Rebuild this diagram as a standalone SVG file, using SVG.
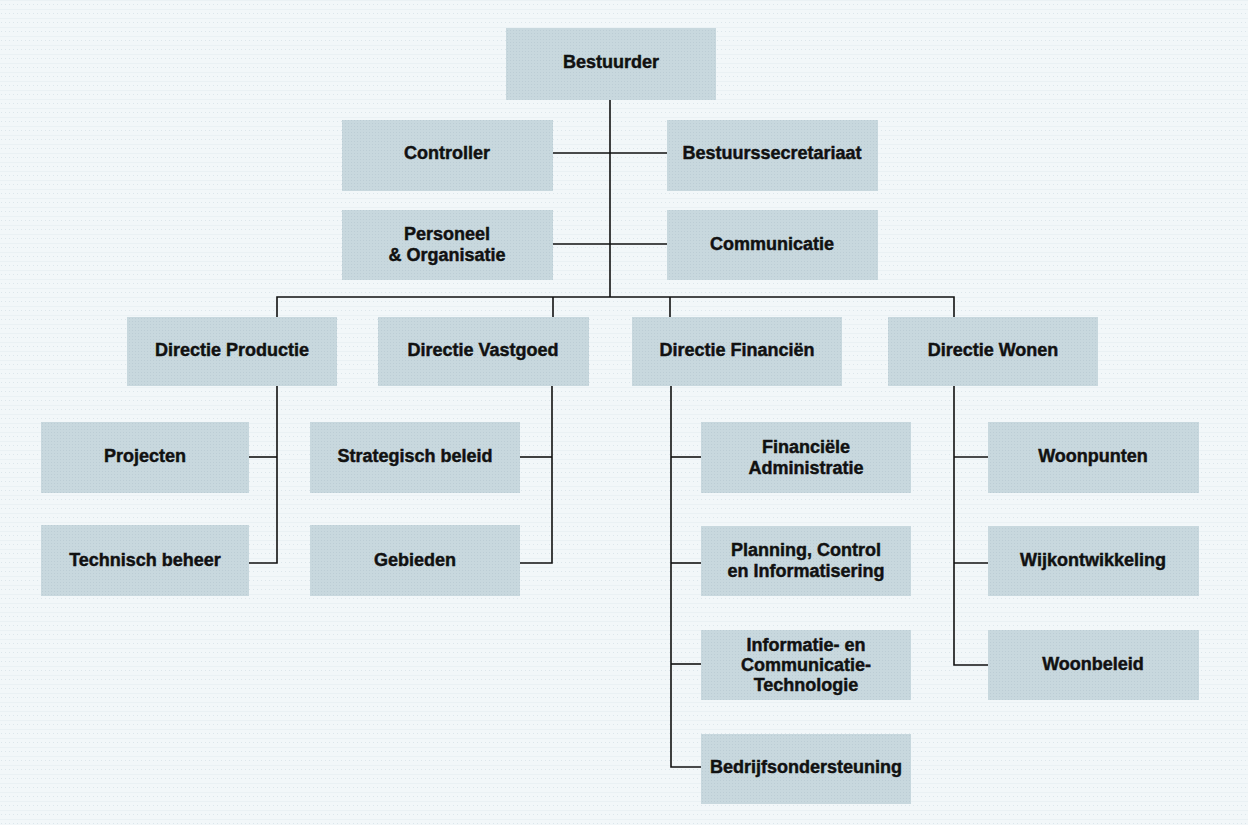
<svg xmlns="http://www.w3.org/2000/svg" width="1248" height="825" viewBox="0 0 1248 825">
  <defs>
    <!-- faint dotted paper texture -->
    <pattern id="paper" width="4" height="9" patternUnits="userSpaceOnUse">
      <rect width="4" height="9" fill="#f2f7f9"/>
      <rect x="0" y="0" width="4" height="1" fill="#eaf1f4"/>
      <rect x="1" y="4" width="1" height="1" fill="#dce6eb"/>
    </pattern>
    <pattern id="boxtex" width="3" height="3" patternUnits="userSpaceOnUse">
      <rect width="3" height="3" fill="#c8d8de"/>
      <rect x="0" y="0" width="1" height="1" fill="#bccdd5"/>
    </pattern>
  </defs>
  <style>
    .box { fill: url(#boxtex); }
    .lbl { font-family: "Liberation Sans", Arial, sans-serif; font-weight: bold; font-size: 18px; fill: #111; stroke: #111; stroke-width: 0.45; text-anchor: middle; dominant-baseline: central; }
    .wire { stroke: #111; stroke-width: 1.6; fill: none; }
  </style>

  <rect width="1248" height="825" fill="url(#paper)"/>

  <!-- connectors -->
  <g id="connectors" class="wire">
    <path d="M610 100 V297"/>
    <path d="M553 153 H667"/>
    <path d="M553 244 H667"/>
    <path d="M277 318 V297 H954 V318"/>
    <path d="M553 297 V318"/>
    <path d="M670 297 V318"/>
    <!-- Directie Productie branch -->
    <path d="M277 386 V563 H249"/>
    <path d="M249 457 H277"/>
    <!-- Directie Vastgoed branch -->
    <path d="M552 386 V563 H520"/>
    <path d="M520 457 H552"/>
    <!-- Directie Financiën branch -->
    <path d="M671 386 V767 H701"/>
    <path d="M671 457 H701"/>
    <path d="M671 563 H701"/>
    <path d="M671 664 H701"/>
    <!-- Directie Wonen branch -->
    <path d="M954 386 V665 H988"/>
    <path d="M954 457 H988"/>
    <path d="M954 563 H988"/>
  </g>

  <g id="bestuurder">
    <rect class="box" x="506" y="28" width="210" height="72"/>
    <text class="lbl" x="611" y="62">Bestuurder</text>
  </g>
  <g id="controller">
    <rect class="box" x="342" y="120" width="211" height="71"/>
    <text class="lbl" x="447" y="153">Controller</text>
  </g>
  <g id="bestuurssecretariaat">
    <rect class="box" x="667" y="120" width="211" height="71"/>
    <text class="lbl" x="772" y="153">Bestuurssecretariaat</text>
  </g>
  <g id="personeel-organisatie">
    <rect class="box" x="342" y="210" width="211" height="70"/>
    <text class="lbl" x="447" y="234">Personeel</text>
    <text class="lbl" x="447" y="255">&amp; Organisatie</text>
  </g>
  <g id="communicatie">
    <rect class="box" x="667" y="210" width="211" height="70"/>
    <text class="lbl" x="772" y="244">Communicatie</text>
  </g>

  <g id="directie-productie">
    <rect class="box" x="127" y="317" width="210" height="69"/>
    <text class="lbl" x="232" y="350">Directie Productie</text>
  </g>
  <g id="directie-vastgoed">
    <rect class="box" x="378" y="317" width="211" height="69"/>
    <text class="lbl" x="483" y="350">Directie Vastgoed</text>
  </g>
  <g id="directie-financien">
    <rect class="box" x="632" y="317" width="210" height="69"/>
    <text class="lbl" x="737" y="350">Directie Financiën</text>
  </g>
  <g id="directie-wonen">
    <rect class="box" x="888" y="317" width="210" height="69"/>
    <text class="lbl" x="993" y="350">Directie Wonen</text>
  </g>

  <g id="projecten">
    <rect class="box" x="41" y="422" width="208" height="71"/>
    <text class="lbl" x="145" y="456">Projecten</text>
  </g>
  <g id="technisch-beheer">
    <rect class="box" x="41" y="525" width="208" height="71"/>
    <text class="lbl" x="145" y="560">Technisch beheer</text>
  </g>
  <g id="strategisch-beleid">
    <rect class="box" x="310" y="422" width="210" height="71"/>
    <text class="lbl" x="415" y="456">Strategisch beleid</text>
  </g>
  <g id="gebieden">
    <rect class="box" x="310" y="525" width="210" height="71"/>
    <text class="lbl" x="415" y="560">Gebieden</text>
  </g>

  <g id="financiele-administratie">
    <rect class="box" x="701" y="422" width="210" height="71"/>
    <text class="lbl" x="806" y="447">Financiële</text>
    <text class="lbl" x="806" y="468">Administratie</text>
  </g>
  <g id="planning-control">
    <rect class="box" x="701" y="526" width="210" height="70"/>
    <text class="lbl" x="806" y="550">Planning, Control</text>
    <text class="lbl" x="806" y="571">en Informatisering</text>
  </g>
  <g id="ict">
    <rect class="box" x="701" y="630" width="210" height="70"/>
    <text class="lbl" x="806" y="645">Informatie- en</text>
    <text class="lbl" x="806" y="665">Communicatie-</text>
    <text class="lbl" x="806" y="685">Technologie</text>
  </g>
  <g id="bedrijfsondersteuning">
    <rect class="box" x="701" y="734" width="210" height="70"/>
    <text class="lbl" x="806" y="767">Bedrijfsondersteuning</text>
  </g>

  <g id="woonpunten">
    <rect class="box" x="988" y="422" width="211" height="71"/>
    <text class="lbl" x="1093" y="456">Woonpunten</text>
  </g>
  <g id="wijkontwikkeling">
    <rect class="box" x="988" y="526" width="211" height="70"/>
    <text class="lbl" x="1093" y="560">Wijkontwikkeling</text>
  </g>
  <g id="woonbeleid">
    <rect class="box" x="988" y="630" width="211" height="70"/>
    <text class="lbl" x="1093" y="664">Woonbeleid</text>
  </g>
</svg>
